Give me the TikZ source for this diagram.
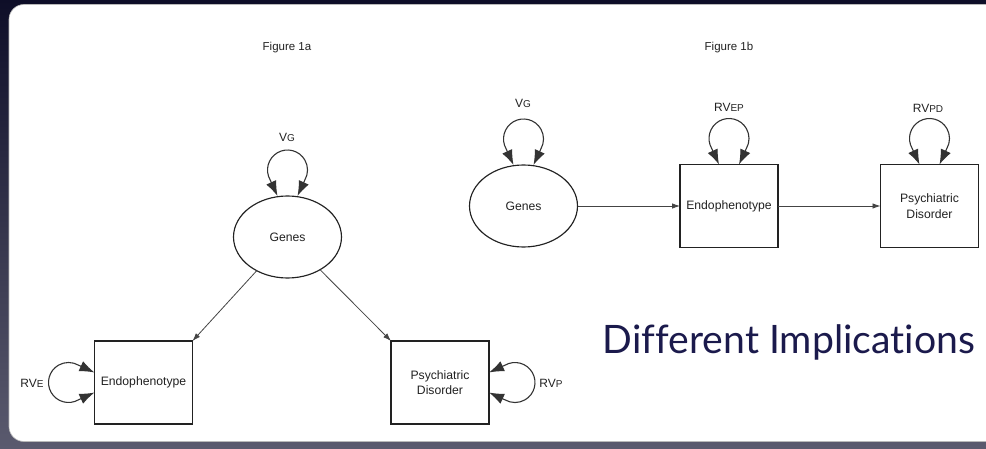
\documentclass[tikz,border=0pt]{standalone}
\usepackage{graphicx}
\usepackage{fontspec}
\setmainfont{Liberation Sans}
\newfontfamily\titlefont[Ligatures={NoCommon,NoRequired,NoContextual}]{Lato}
\usetikzlibrary{shapes.geometric,arrows.meta}

\definecolor{bgtop}{HTML}{0E0E28}
\definecolor{bgmid}{HTML}{1E1E3A}
\definecolor{bgbot}{HTML}{5A5A6E}
\definecolor{ink}{HTML}{222222}
\definecolor{linegray}{HTML}{444444}
\definecolor{headgray}{HTML}{333333}
\definecolor{navytext}{HTML}{1B1A4C}

% variance label: main letters plus smaller trailing capitals
\newcommand{\varlab}[2]{{\fontsize{12}{14}\selectfont #1}{\fontsize{10}{11}\selectfont #2}}

\begin{document}
\begin{tikzpicture}[x=1pt,y=1pt,
  every node/.style={font=\fontsize{12.2}{15.5}\selectfont, text=ink},
  latent/.style={ellipse, draw=ink, line width=1.15pt, minimum width=108pt,
    minimum height=82pt, inner sep=0pt, outer sep=0pt, fill=white},
  observed/.style={rectangle, draw=ink, line width=1.15pt, minimum width=98pt,
    minimum height=83pt, inner sep=0pt, outer sep=0pt, align=center, fill=white},
  caption/.style={font=\fontsize{11.5}{13}\selectfont},
  causal/.style={draw=linegray, line width=0.8pt, -{Latex[length=8pt,width=5.5pt]}},
  selfloop/.style={draw=headgray, line width=1.1pt,
    {Latex[length=15pt,width=11pt]}-{Latex[length=15pt,width=11pt]}}
]
\useasboundingbox (0,0) rectangle (986,448);

% slide background and white panel
\shade[top color=bgtop, middle color=bgmid, bottom color=bgbot] (0,0) rectangle (986,448);
\fill[white, draw=gray!55, line width=0.6pt, rounded corners=15pt] (9,6.5) rectangle (1000,443.5);

% captions
\node[caption] (capA) at (287,400) {Figure 1a};
\node[caption] (capB) at (729,400) {Figure 1b};

% Figure 1a: genes cause both
\node[latent] (genesA) at (287.5,211) {Genes};
\node[observed] (endoA) at (143.5,65.5) {Endophenotype};
\node[observed] (psychA) at (440,65.5) {Psychiatric\\Disorder};

\node (vgA) at (287,311) {\varlab{V}{G}};
\node (rve) at (32,65) {\varlab{RV}{E}};
\node (rvp) at (551,65) {\varlab{RV}{P}};

\draw[causal] (genesA) -- (endoA.north east);
\draw[causal] (genesA) -- (psychA.north west);

\draw[selfloop] ([xshift=-10pt]genesA.north) -- ++(-7.3,16)
  arc[start angle=210, end angle=-30, radius=20] -- ([xshift=10pt]genesA.north);
\draw[selfloop] ([yshift=-10pt]endoA.west) -- ++(-16,-7.3)
  arc[start angle=300, end angle=60, radius=20] -- ([yshift=10pt]endoA.west);
\draw[selfloop] ([yshift=10pt]psychA.east) -- ++(16,7.3)
  arc[start angle=120, end angle=-120, radius=20] -- ([yshift=-10pt]psychA.east);

% Figure 1b: causal chain
\node[latent] (genesB) at (523.5,242) {Genes};
\node[observed] (endoB) at (729,242) {Endophenotype};
\node[observed] (psychB) at (929.5,242) {Psychiatric\\Disorder};

\node (vgB) at (523,345) {\varlab{V}{G}};
\node (rvep) at (729,341) {\varlab{RV}{EP}};
\node (rvpd) at (928,340) {\varlab{RV}{PD}};

\draw[causal] (genesB) -- (endoB);
\draw[causal] (endoB) -- (psychB);

\draw[selfloop] ([xshift=-10pt]genesB.north) -- ++(-7.3,16)
  arc[start angle=210, end angle=-30, radius=20] -- ([xshift=10pt]genesB.north);
\draw[selfloop] ([xshift=-10pt]endoB.north) -- ++(-7.3,16)
  arc[start angle=210, end angle=-30, radius=20] -- ([xshift=10pt]endoB.north);
\draw[selfloop] ([xshift=-10pt]psychB.north) -- ++(-7.3,16)
  arc[start angle=210, end angle=-30, radius=20] -- ([xshift=10pt]psychB.north);

% slide heading
\node[anchor=base, text=navytext, inner sep=0pt] (implic) at (789,95)
  {\resizebox{372pt}{!}{\titlefont\fontsize{36}{40}\selectfont Different Implications}};
\end{tikzpicture}
\end{document}
